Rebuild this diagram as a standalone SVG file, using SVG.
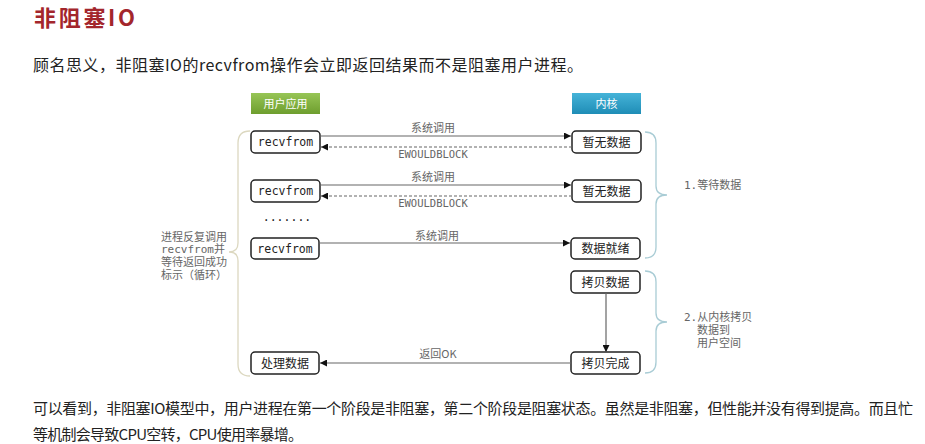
<svg xmlns="http://www.w3.org/2000/svg" width="925" height="444" viewBox="0 0 925 444">
<defs>
<linearGradient id="gGreen" x1="0" y1="0" x2="0" y2="1"><stop offset="0" stop-color="#97c556"/><stop offset="1" stop-color="#6e9e2e"/></linearGradient>
<linearGradient id="gBlue" x1="0" y1="0" x2="0" y2="1"><stop offset="0" stop-color="#45b3d8"/><stop offset="1" stop-color="#1f8db6"/></linearGradient>
<marker id="ah" viewBox="0 0 10 10" refX="10" refY="5" markerWidth="7" markerHeight="7" orient="auto" markerUnits="userSpaceOnUse"><path d="M0,0 L10,5 L0,10 z" fill="#111"/></marker>
<style>
.box{fill:#fff;stroke:#222;stroke-width:1.5}
.mono{font-family:"DejaVu Sans Mono","Liberation Mono","Noto Sans CJK SC",monospace;font-size:11.5px;fill:#222}
.cjk{font-family:"Noto Sans CJK SC","Liberation Sans",sans-serif;font-size:12px;fill:#222}
.lbl{font-family:"Noto Sans CJK SC","Liberation Sans",sans-serif;font-size:11px;fill:#666}
.lblm{font-family:"DejaVu Sans Mono","Liberation Mono",monospace;font-size:10.5px;fill:#666}
.side{font-family:"DejaVu Sans Mono","Noto Sans CJK SC",monospace;font-size:11px;fill:#666}
.hdr{font-family:"Noto Sans CJK SC","Liberation Sans",sans-serif;font-size:11px;fill:#fff}
.ln{stroke:#666;stroke-width:1.2;fill:none}
.dash{stroke:#666;stroke-width:1.1;stroke-dasharray:3,2;fill:none}
.brL{stroke:#dcd8c0;stroke-width:1.3;fill:none}
.brR{stroke:#a9ccd5;stroke-width:1.3;fill:none}
.body{font-family:"Noto Sans CJK SC","Liberation Sans",sans-serif;fill:#222}
</style>
</defs>
<rect width="925" height="444" fill="#fff"/>
<text x="34" y="26" font-family="Noto Sans CJK SC,Liberation Sans,sans-serif" font-weight="bold" font-size="22" fill="#a3262c" textLength="101">非阻塞IO</text>
<text class="body" x="33" y="71" font-size="16" textLength="550">顾名思义，非阻塞IO的recvfrom操作会立即返回结果而不是阻塞用户进程。</text>

<g id="hdr-user"><rect x="251" y="93" width="69" height="21" fill="url(#gGreen)"/><text class="hdr" x="285.5" y="107.5" text-anchor="middle">用户应用</text></g>
<g id="hdr-kernel"><rect x="572" y="93" width="69" height="21" fill="url(#gBlue)"/><text class="hdr" x="606.5" y="107.5" text-anchor="middle">内核</text></g>

<g id="braces">
<path class="brL" d="M250,131 Q238,131 238,143 L238,243 Q238,252 229,252 Q238,252 238,261 L238,364 Q238,376 250,376"/>
<path class="brR" d="M645,132 Q656,132 656,143 L656,186 Q656,195 667,195 Q656,195 656,204 L656,247 Q656,258 645,258"/>
<path class="brR" d="M645,271 Q656,271 656,282 L656,313 Q656,322 667,322 Q656,322 656,331 L656,362 Q656,373 645,373"/>
</g>

<g id="n-recv1"><rect class="box" x="251" y="131" width="69" height="22" rx="4"/><text class="mono" x="285.5" y="146" text-anchor="middle">recvfrom</text></g>
<g id="n-nodata1"><rect class="box" x="572" y="131" width="69" height="22" rx="4"/><text class="cjk" x="606.5" y="146.5" text-anchor="middle">暂无数据</text></g>
<g id="n-recv2"><rect class="box" x="251" y="180" width="69" height="22" rx="4"/><text class="mono" x="285.5" y="195" text-anchor="middle">recvfrom</text></g>
<g id="n-nodata2"><rect class="box" x="572" y="180" width="69" height="22" rx="4"/><text class="cjk" x="606.5" y="195.5" text-anchor="middle">暂无数据</text></g>
<g id="n-dots"><text class="mono" x="287" y="221" text-anchor="middle">.......</text></g>
<g id="n-recv3"><rect class="box" x="251" y="238" width="68" height="21" rx="4"/><text class="mono" x="285" y="252.5" text-anchor="middle">recvfrom</text></g>
<g id="n-ready"><rect class="box" x="571" y="238" width="69" height="21" rx="4"/><text class="cjk" x="605.5" y="253" text-anchor="middle">数据就绪</text></g>
<g id="n-copy"><rect class="box" x="571" y="271" width="69" height="22" rx="4"/><text class="cjk" x="605.5" y="286.5" text-anchor="middle">拷贝数据</text></g>
<g id="n-done"><rect class="box" x="571" y="352" width="69" height="22" rx="4"/><text class="cjk" x="605.5" y="367.5" text-anchor="middle">拷贝完成</text></g>
<g id="n-process"><rect class="box" x="251" y="352" width="68" height="22" rx="4"/><text class="cjk" x="285" y="367.5" text-anchor="middle">处理数据</text></g>

<g id="connectors">
<line class="ln" x1="320" y1="136" x2="571" y2="136" marker-end="url(#ah)"/>
<line class="dash" x1="572" y1="147" x2="321" y2="147" marker-end="url(#ah)"/>
<line class="ln" x1="320" y1="185" x2="571" y2="185" marker-end="url(#ah)"/>
<line class="dash" x1="572" y1="196" x2="321" y2="196" marker-end="url(#ah)"/>
<line class="ln" x1="319" y1="243" x2="570" y2="243" marker-end="url(#ah)"/>
<line class="ln" x1="606" y1="293" x2="606" y2="352" marker-end="url(#ah)"/>
<line class="ln" x1="571" y1="363" x2="320" y2="363" marker-end="url(#ah)"/>
<text class="lbl" x="433" y="132" text-anchor="middle">系统调用</text>
<text class="lblm" x="433" y="158" text-anchor="middle">EWOULDBLOCK</text>
<text class="lbl" x="433" y="181" text-anchor="middle">系统调用</text>
<text class="lblm" x="433" y="207" text-anchor="middle">EWOULDBLOCK</text>
<text class="lbl" x="437" y="240" text-anchor="middle">系统调用</text>
<text class="lbl" x="438" y="358" text-anchor="middle">返回OK</text>
</g>

<g id="side-labels">
<text class="side" x="161" y="241">进程反复调用</text>
<text class="side" x="161" y="253">recvfrom并</text>
<text class="side" x="161" y="266">等待返回成功</text>
<text class="side" x="161" y="279">标示（循环）</text>
<text class="side" x="684" y="189">1.等待数据</text>
<text class="side" x="684" y="321">2.从内核拷贝</text>
<text class="side" x="697" y="334">数据到</text>
<text class="side" x="697" y="347">用户空间</text>
</g>

<text class="body" x="33" y="414" font-size="15" textLength="880">可以看到，非阻塞IO模型中，用户进程在第一个阶段是非阻塞，第二个阶段是阻塞状态。虽然是非阻塞，但性能并没有得到提高。而且忙</text>
<text class="body" x="33" y="440" font-size="15" textLength="270">等机制会导致CPU空转，CPU使用率暴增。</text>
</svg>
